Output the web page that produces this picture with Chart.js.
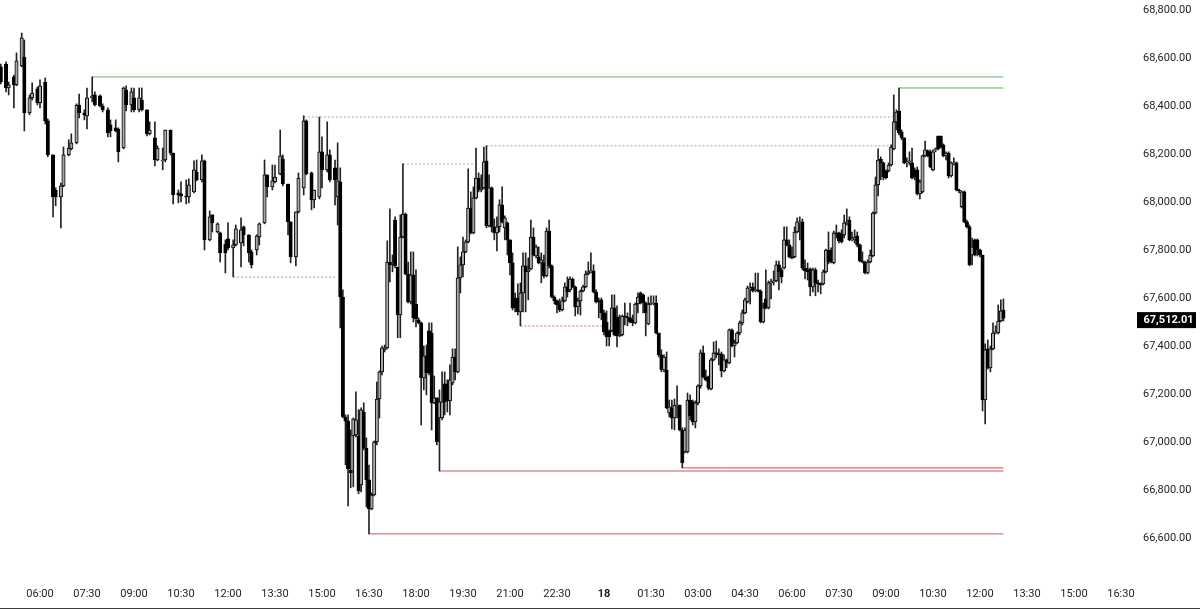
<!DOCTYPE html>
<html>
<head>
<meta charset="utf-8">
<title>BTC chart</title>
<style>
  html, body { margin: 0; padding: 0; background: #fff; overflow: hidden; }
  #wrap { width: 1200px; height: 608px; border-bottom: 1px solid #3c3c3c; }
  canvas { display: block; filter: blur(0.35px); }
</style>
</head>
<body>
<div id="wrap"><canvas id="myChart" width="1200" height="608"></canvas></div>
<script src="https://cdn.jsdelivr.net/npm/chart.js@4/dist/chart.umd.js"></script>
<script>
// x labels sit every 18 five-minute slots, starting at slot 15
var xTickLabels = ['06:00','07:30','09:00','10:30','12:00','13:30','15:00','16:30','18:00','19:30','21:00','22:30','18','01:30','03:00','04:30','06:00','07:30','09:00','10:30','12:00','13:30','15:00','16:30'];
var yTickValues = [68800,68600,68400,68200,68000,67800,67600,67400,67200,67000,66800,66600];
var lastPrice = 67512.01;

// slot of every candle (5 min each)
var slots = [0,2,3,5,6,8,9,11,12,14,15,17,18,20,21,23,24,26,27,29,30,32,33,35,36,38,39,41,42,44,45,47,48,50,51,53,54,56,57,59,60,62,63,65,66,68,69,71,72,74,75,77,78,80,81,83,84,86,87,89,90,92,93,95,96,98,99,101,102,104,105,107,108,110,111,113,114,116,117,119,120,122,123,125,126,128,129,
130,131,132,133,134,135,136,137,138,139,140,141,142,143,144,145,146,147,148,149,150,151,152,153,154,155,156,157,158,159,160,161,162,163,164,165,166,167,168,169,170,171,172,173,174,175,176,177,178,179,180,181,182,183,184,185,186,187,188,189,190,191,192,193,194,195,196,197,198,199,
200,201,202,203,204,205,206,207,208,209,210,211,212,213,214,215,216,217,218,219,220,221,222,223,224,225,226,227,228,229,230,231,232,233,234,235,236,237,238,239,240,241,242,243,244,245,246,247,248,249,250,251,252,253,254,255,256,257,258,259,260,261,262,263,264,265,266,267,268,269,
270,271,272,273,274,275,276,277,278,279,280,281,282,283,284,285,286,287,288,289,290,291,292,293,294,295,296,297,298,299,300,301,302,303,304,305,306,307,308,309,310,311,312,313,314,315,316,317,318,319,320,321,322,323,324,325,326,327,328,329,330,331,332,333,334,335,336,337,338,339,
340,341,342,343,344,345,346,347,348,349,350,351,352,353,354,355,356,357,358,359,360,361,362,363,364,365,366,367,368,369,370,371,372,373,374,375,376,377,378,379,380,381,382,383,384];

var opens = [68559,68571,68471,68517,68484,68563,68600,68367,68430,68467,68409,68496,68334,68192,68046,68017,68063,68192,68217,68242,68400,68367,68355,68430,68442,68438,68396,68380,68317,68305,68300,68221,68463,68400,68430,68380,68421,68380,68280,68263,68171,68167,68171,68296,68200,68034,68030,68021,68017,68038,68121,68088,68167,67838,67942,67871,67867,67821,67842,67805,67817,67825,67892,67859,67788,67796,67850,67909,68109,68059,68080,68113,68175,68071,67913,67767,67955,68055,68334,68117,68005,68017,68205,68130,68192,68138,68017,
68080,67600,67100,67083,66879,67021,67025,67021,66817,67121,
66971,66838,66717,66775,66996,67175,67288,67380,67388,67746,
67734,67921,67725,67525,67850,67946,67696,67580,67692,67571,
67505,67492,67263,67355,67459,67450,67159,67180,67096,67096,
67238,67238,67167,67242,67350,67288,67680,67734,67788,67830,
67971,67867,68013,68096,68046,68055,68167,67896,68055,67892,
67867,67892,67984,67888,67909,67838,67742,67596,67596,67538,
67617,67730,67705,67717,67850,67771,67767,67742,67742,67688,
67875,67730,67600,67584,67567,67546,67584,67642,67630,67675,
67642,67559,67584,67625,67642,67696,67705,67709,67621,67584,
67588,67534,67496,67459,67459,67555,67517,67438,67442,67521,
67517,67513,67505,67492,67571,67617,67609,67575,67488,67571,
67571,67575,67450,67359,67296,67296,67117,67138,67096,67146,
67150,67046,66955,66955,67171,67163,67079,67159,67230,67367,
67267,67267,67217,67338,67367,67363,67363,67292,67338,67325,
67463,67396,67409,67450,67492,67534,67580,67634,67642,67625,
67630,67625,67496,67592,67555,67659,67663,67667,67734,67713,
67721,67838,67817,67767,67767,67871,67909,67913,67721,67713,
67717,67642,67713,67659,67655,67655,67705,67796,67796,67742,
67867,67867,67859,67859,67909,67921,67838,67838,67855,67817,
67750,67746,67700,67746,67771,67950,68067,68175,68159,68125,
68125,68150,68217,68330,68375,68288,68263,68159,68163,68159,
68130,68130,68030,68038,68188,68209,68205,68130,68213,68271,
68271,68234,68188,68200,68105,68155,68159,68046,67975,68038,
67913,67892,67775,67838,67838,67796,67775,67171,67384,67305,
67384,67450,67450,67500,67546];

var closes = [68496,68471,68484,68484,68584,68680,68367,68430,68450,68409,68480,68334,68192,68017,68017,68063,68192,68221,68242,68400,68367,68359,68430,68438,68400,68396,68380,68284,68292,68292,68205,68471,68400,68455,68380,68430,68380,68280,68296,68171,68221,68171,68296,68200,68025,68025,68021,68017,68067,68130,68088,68167,67838,67934,67909,67905,67784,67784,67805,67817,67884,67880,67859,67784,67734,67855,67905,68109,68059,68084,68100,68188,68071,67913,67767,67955,68096,68334,68113,68005,68046,68205,68130,68192,68088,68088,68084,
67600,67100,67083,66884,66867,67092,67088,66792,67130,66971,
66838,66717,66775,66996,67175,67288,67388,67388,67746,67734,
67742,67730,67525,67850,67946,67696,67580,67692,67513,67509,
67492,67263,67355,67284,67284,67159,67180,66996,67163,67163,
67163,67167,67255,67350,67288,67680,67734,67788,67830,67971,
67867,68013,68096,68046,68055,68163,67896,68055,67892,67867,
67892,67984,67913,67930,67838,67742,67555,67555,67538,67617,
67730,67705,67713,67850,67775,67809,67742,67755,67688,67875,
67730,67600,67584,67567,67546,67584,67642,67621,67675,67642,
67559,67584,67625,67642,67696,67705,67709,67621,67580,67580,
67534,67455,67434,67434,67555,67442,67438,67446,67521,67517,
67513,67496,67492,67571,67600,67575,67575,67534,67571,67575,
67575,67450,67359,67296,67350,67138,67142,67096,67150,67150,
67046,66909,67046,67171,67105,67079,67159,67230,67367,67267,
67255,67221,67338,67367,67363,67359,67292,67338,67325,67463,
67396,67409,67450,67492,67534,67588,67638,67638,67625,67630,
67625,67496,67555,67555,67659,67663,67667,67734,67705,67684,
67838,67817,67767,67763,67871,67913,67913,67721,67709,67705,
67642,67713,67659,67655,67650,67705,67796,67746,67746,67867,
67863,67834,67830,67909,67913,67838,67842,67850,67817,67750,
67746,67700,67746,67775,67950,68067,68171,68159,68100,68096,
68150,68225,68330,68371,68284,68263,68159,68163,68167,68096,
68100,68030,68080,68188,68213,68188,68142,68205,68217,68217,
68225,68188,68200,68105,68159,68159,68046,68042,68038,67913,
67892,67734,67809,67775,67796,67775,67171,67380,67305,67384,
67450,67455,67500,67542,67512.01];

var highs = [68571,68580,68496,68525,68617,68700,68671,68442,68492,68475,68505,68513,68342,68192,68055,68075,68225,68255,68280,68405,68446,68380,68471,68517,68455,68442,68405,68388,68338,68338,68305,68475,68480,68471,68471,68471,68471,68380,68330,68330,68230,68221,68296,68296,68200,68046,68080,68088,68092,68167,68171,68192,68171,67959,67942,67909,67871,67838,67909,67838,67900,67930,67896,67859,67796,67859,67909,68171,68109,68150,68150,68296,68192,68071,67913,67955,68117,68355,68338,68121,68046,68350,68267,68330,68213,68171,68242,
68138,67630,67109,67109,67046,67096,67205,67130,67138,67159,
67013,66900,66784,67000,67246,67292,67396,67400,67834,67967,
67775,67934,67725,67942,68155,67950,67746,67788,67788,67713,
67513,67496,67396,67400,67492,67492,67271,67180,67213,67288,
67288,67255,67317,67384,67384,67809,67767,67850,67838,68134,
68038,68059,68221,68117,68109,68225,68230,68109,68059,67925,
67934,68005,68059,67938,67913,67838,67784,67617,67655,67659,
67784,67784,67763,67921,67888,67817,67809,67784,67775,67888,
67921,67734,67605,67588,67592,67600,67659,67684,67684,67680,
67646,67596,67630,67650,67709,67746,67784,67734,67630,67596,
67596,67546,67542,67463,67609,67609,67563,67525,67525,67575,
67534,67575,67525,67575,67617,67621,67613,67580,67600,67605,
67605,67605,67450,67380,67359,67371,67171,67171,67175,67230,
67150,67055,67055,67200,67192,67171,67167,67234,67380,67396,
67296,67271,67346,67413,67417,67384,67371,67359,67342,67467,
67467,67421,67455,67500,67546,67596,67646,67659,67659,67700,
67700,67630,67575,67713,67667,67675,67709,67750,67750,67721,
67892,67892,67838,67809,67892,67930,67934,67925,67755,67742,
67721,67721,67721,67671,67659,67713,67800,67871,67805,67875,
67900,67871,67880,67942,67967,67934,67871,67880,67871,67821,
67788,67750,67755,67796,67955,68100,68217,68184,68163,68130,
68159,68234,68442,68380,68471,68296,68263,68180,68205,68221,
68138,68142,68088,68192,68250,68213,68213,68213,68221,68271,
68271,68238,68205,68205,68163,68180,68163,68050,68042,68042,
67921,67900,67846,67842,67842,67800,67775,67405,67421,67396,
67492,67480,67567,67588,67592];

var lows = [68488,68455,68442,68388,68480,68559,68292,68359,68421,68400,68388,68321,68184,67934,67980,67888,68059,68188,68213,68238,68346,68338,68300,68413,68396,68392,68371,68267,68267,68288,68163,68217,68375,68371,68371,68371,68375,68271,68275,68146,68167,68130,68163,68192,67988,67992,67996,67988,67992,68034,68084,68080,67796,67834,67871,67867,67746,67700,67796,67684,67813,67725,67813,67746,67721,67775,67817,67905,68017,68046,68075,68109,68063,67859,67742,67730,67950,68025,68109,67963,67971,68009,68055,68121,68080,67984,67900,
67471,67096,66900,66730,66805,66809,67017,66780,66788,66963,
66725,66613,66713,66771,66984,67096,67275,67371,67384,67663,
67705,67721,67430,67430,67846,67692,67575,67571,67496,67475,
67488,67067,67213,67192,67275,67046,67155,66984,66875,67088,
67109,67121,67109,67234,67255,67284,67617,67684,67784,67825,
67863,67863,68009,68038,68038,68050,67888,67892,67871,67838,
67792,67871,67909,67838,67775,67692,67546,67538,67525,67480,
67538,67538,67588,67713,67771,67763,67738,67659,67680,67684,
67721,67596,67571,67534,67538,67542,67580,67600,67621,67638,
67521,67530,67525,67621,67638,67692,67700,67617,67575,67513,
67505,67442,67396,67396,67455,67438,67392,67434,67438,67484,
67480,67492,67480,67488,67534,67571,67534,67438,67484,67567,
67567,67446,67350,67288,67288,67134,67100,67050,67046,67096,
67042,66888,66950,66950,67088,67067,67055,67150,67221,67263,
67250,67213,67213,67334,67346,67317,67267,67288,67305,67321,
67392,67350,67405,67442,67484,67530,67575,67571,67621,67621,
67621,67492,67492,67550,67550,67592,67650,67663,67630,67659,
67717,67813,67763,67759,67763,67867,67838,67713,67675,67671,
67605,67621,67605,67621,67613,67650,67700,67738,67742,67738,
67846,67825,67825,67846,67900,67834,67834,67825,67809,67746,
67742,67696,67696,67742,67767,67946,68021,68088,68088,68092,
68121,68146,68213,68296,68275,68255,68155,68142,68150,68092,
68088,68025,68009,68034,68184,68184,68138,68125,68205,68213,
68221,68184,68171,68096,68100,68150,68042,68034,67971,67909,
67888,67730,67734,67771,67771,67767,67125,67071,67300,67288,
67380,67446,67446,67496,67500];

// horizontal levels: [price, start slot, end slot]
var solidLevels = [
  [68517, 35, 384, '#6fae74'],
  [68471, 344, 384, '#4fb954'],
  [66888, 261, 384, '#e8403f'],
  [66875, 168, 384, '#c65a5c'],
  [66613, 141, 384, '#c65a5c']
];
var dottedLevels = [
  [68350, 116, 342, '#7fbf7f'],
  [68230, 186, 341, '#7fbf7f'],
  [68154, 154, 181, '#a8a8a8'],
  [67683, 89, 129, '#b89090'],
  [67479, 199, 231, '#e05a5a']
];

var wickData = slots.map(function(s, i) { return { x: s, y: [lows[i], highs[i]] }; });
var bodyData = slots.map(function(s, i) { return { x: s, y: [opens[i], closes[i]] }; });
var bodyColors = slots.map(function(s, i) { return closes[i] >= opens[i] ? '#a8a8a8' : '#000000'; });

function levelDataset(level, dash) {
  return {
    type: 'line',
    data: [{ x: level[1], y: level[0] }, { x: level[2], y: level[0] }],
    borderColor: level[3],
    borderWidth: 1,
    borderDash: dash,
    pointRadius: 0,
    order: 3
  };
}

var datasets = [
  { data: bodyData, backgroundColor: bodyColors, borderColor: '#000000', borderWidth: 1, borderSkipped: false, barThickness: 3.4, grouped: false, order: 1 },
  { data: wickData, backgroundColor: '#222222', borderWidth: 0, barThickness: 1, grouped: false, order: 2 }
];
solidLevels.forEach(function(l) { datasets.push(levelDataset(l, [])); });
dottedLevels.forEach(function(l) { datasets.push(levelDataset(l, [2, 2])); });

// black tag on the price axis
var priceTag = {
  id: 'priceTag',
  afterDraw: function(chart) {
    var c = chart.ctx;
    var y = chart.scales.y.getPixelForValue(lastPrice) + 2;
    c.save();
    c.fillStyle = '#000';
    c.fillRect(1137, y - 8, 59, 16);
    c.fillStyle = '#fff';
    c.font = 'bold 11px Roboto';
    c.textAlign = 'left';
    c.textBaseline = 'middle';
    c.fillText(lastPrice.toLocaleString('en-US', { minimumFractionDigits: 2 }), 1143.5, y);
    c.restore();
  }
};

function noPadding(scale) {
  scale.paddingLeft = 0;
  scale.paddingRight = 0;
  scale.paddingTop = 0;
  scale.paddingBottom = 0;
}

var ctx = document.getElementById('myChart').getContext('2d');
var myChart = new Chart(ctx, {
  type: 'bar',
  data: { datasets: datasets },
  plugins: [priceTag],
  options: {
    responsive: false,
    animation: false,
    devicePixelRatio: 1,
    layout: { padding: 0 },
    plugins: { legend: { display: false }, tooltip: { enabled: false } },
    scales: {
      x: {
        type: 'linear',
        offset: false,
        min: -0.318,
        max: 436.3,
        grid: { display: false, drawTicks: false },
        border: { display: false },
        afterFit: function(scale) { scale.height = 33; noPadding(scale); },
        afterBuildTicks: function(scale) {
          scale.ticks = xTickLabels.map(function(l, k) { return { value: 15 + 18 * k }; });
        },
        ticks: {
          autoSkip: false,
          maxRotation: 0,
          padding: 13,
          color: '#222',
          font: function(c) {
            return { family: 'Roboto', size: 11, weight: c.tick && c.tick.label === '18' ? 'bold' : 'normal' };
          },
          callback: function(value) { return xTickLabels[(value - 15) / 18]; }
        }
      },
      y: {
        position: 'right',
        min: 66441.67,
        max: 68837.5,
        grid: { display: false, drawTicks: false },
        border: { display: false },
        afterFit: function(scale) { scale.width = 60; noPadding(scale); },
        afterBuildTicks: function(scale) {
          scale.ticks = yTickValues.map(function(v) { return { value: v }; });
        },
        ticks: {
          padding: 3,
          labelOffset: 1,
          color: '#222',
          font: { family: 'Roboto', size: 11 },
          callback: function(value) {
            return value.toLocaleString('en-US', { minimumFractionDigits: 2 });
          }
        }
      }
    }
  }
});
</script>
</body>
</html>
